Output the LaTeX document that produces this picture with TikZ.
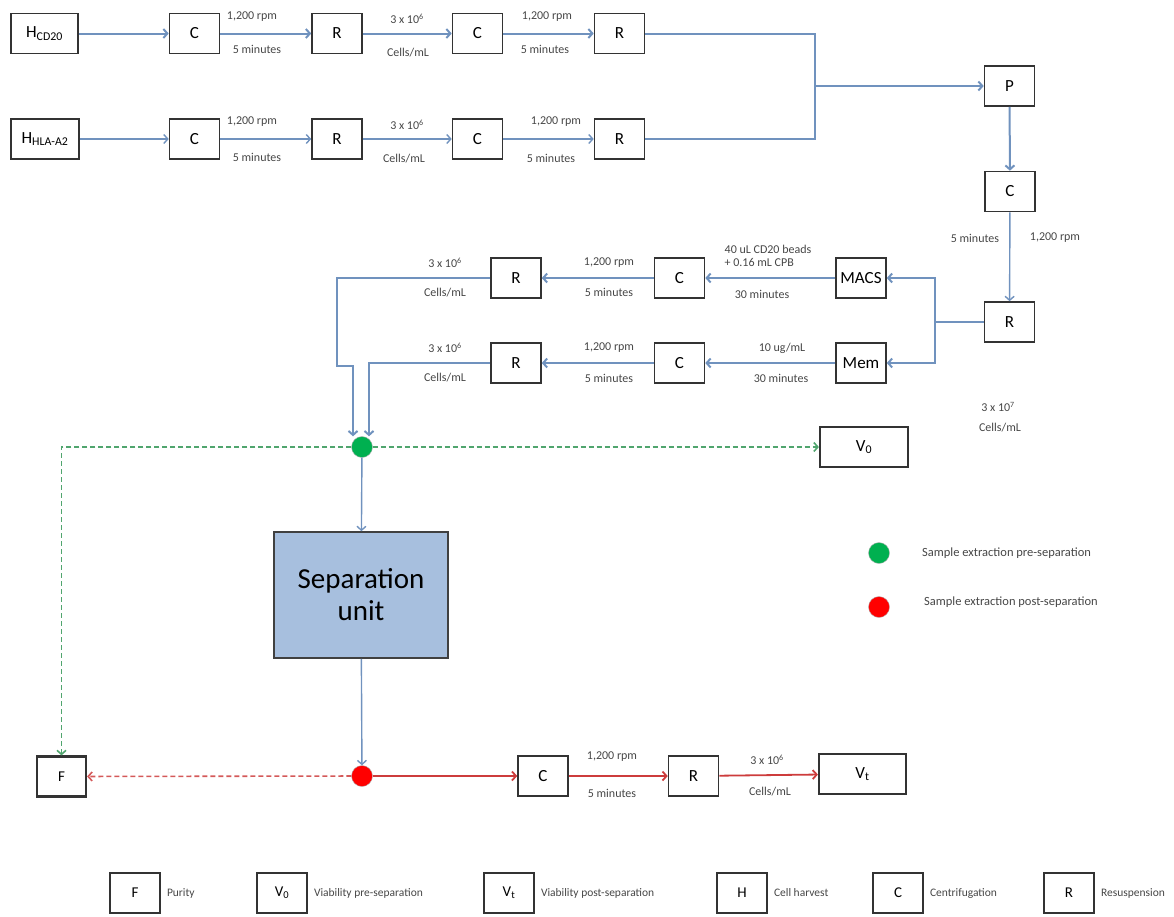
\documentclass[tikz,border=0pt]{standalone}
\usepackage{fontspec}
\setmainfont{Carlito}
\usepackage{xcolor}
\definecolor{flow-blue}{RGB}{112,146,190}
\definecolor{sep-blue}{RGB}{167,191,222}
\definecolor{dot-green}{RGB}{0,176,80}
\definecolor{dash-green}{RGB}{80,165,110}
\definecolor{flow-red}{RGB}{205,60,60}
\definecolor{lbl-gray}{RGB}{70,70,70}
\usetikzlibrary{arrows.meta}
\newcommand{\tenpow}[1]{3 x 10\textsuperscript{#1}}

\begin{document}
\begin{tikzpicture}[
	x=1pt, y=-1pt,
	>={Straight Barb[length=4pt,width=9pt]},
	box/.style={draw=black!80, line width=1.6pt, minimum width=50pt, minimum height=40pt,
		inner sep=0pt, font=\fontsize{17}{20}\selectfont},
	endbox/.style={box, line width=2.2pt},
	keybox/.style={box, font=\fontsize{15}{18}\selectfont},
	lbl/.style={text=lbl-gray, font=\fontsize{12}{13}\selectfont, inner sep=0pt},
	key/.style={text=lbl-gray, font=\fontsize{12.5}{14}\selectfont, anchor=west, inner sep=0pt},
	flow/.style={draw=flow-blue, line width=2pt},
	thinflow/.style={draw=flow-blue, line width=1.4pt},
	post/.style={draw=flow-red, line width=1.8pt},
	gdash/.style={draw=dash-green, line width=1.6pt, dash pattern=on 5pt off 3pt},
	rdash/.style={draw=flow-red!85, line width=1.6pt, dash pattern=on 5pt off 3pt},
	sample/.style={circle, minimum size=21pt, inner sep=0pt, draw=white!70!black, line width=.4pt}
	]
	\useasboundingbox (0,0) rectangle (1174,916);

	% harvest lines
	\node[box, minimum width=67pt] (hcd) at (44.5,33.5) {H\textsubscript{CD20}};
	\node[box] (c1) at (194.5,33.5) {C};
	\node[box] (r1) at (337,33.5) {R};
	\node[box] (c2) at (477.5,33.5) {C};
	\node[box] (r2) at (619.5,33.5) {R};

	\node[box, minimum width=68pt] (hhla) at (45,139) {H\textsubscript{HLA-A2}};
	\node[box] (c3) at (194.5,139) {C};
	\node[box] (r3) at (337,139) {R};
	\node[box] (c4) at (477.5,139) {C};
	\node[box] (r4) at (619.5,139) {R};

	\draw[flow,->] (hcd) -- (c1);
	\draw[flow,->] (c1) -- (r1);
	\draw[flow,->] (r1) -- (c2);
	\draw[flow,->] (c2) -- (r2);
	\draw[thinflow,->] (hhla) -- (c3);
	\draw[thinflow,->] (c3) -- (r3);
	\draw[thinflow,->] (r3) -- (c4);
	\draw[thinflow,->] (c4) -- (r4);

	\node[lbl] at (252,17) {1,200 rpm};
	\node[lbl] at (257,49) {5 minutes};
	\node[lbl] at (407,19) {\tenpow{6}};
	\node[lbl] at (408,53) {Cells/mL};
	\node[lbl] at (547,17) {1,200 rpm};
	\node[lbl] at (545,49) {5 minutes};
	\node[lbl] at (252,122) {1,200 rpm};
	\node[lbl] at (257,157) {5 minutes};
	\node[lbl] at (407,125) {\tenpow{6}};
	\node[lbl] at (404,159) {Cells/mL};
	\node[lbl] at (556,122) {1,200 rpm};
	\node[lbl] at (551,158) {5 minutes};

	% pooling
	\coordinate (j1) at (815,86);
	\node[box] (p) at (1009.5,86) {P};
	\node[box] (cp) at (1010,191.5) {C};
	\node[box] (rp) at (1009.5,322) {R};

	\draw[flow] (r2.east) -| (j1);
	\draw[thinflow] (j1) |- (r4.east);
	\draw[flow,->] (j1) -- (p);
	\draw[flow,->] (p) -- (cp);
	\draw[thinflow,->] (cp) -- (rp);
	\node[lbl] at (975,238) {5 minutes};
	\node[lbl] at (1055,238) {1,200 rpm};
	\node[lbl] at (998,407) {\tenpow{7}};
	\node[lbl] at (1000,428) {Cells/mL};

	% labelling branches
	\coordinate (j2) at (935,322);
	\node[box] (macs) at (861,278) {MACS};
	\node[box] (mem) at (861,363) {Mem};
	\node[box] (cm) at (679.5,278) {C};
	\node[box] (rm) at (516,278) {R};
	\node[box] (cme) at (679.5,363) {C};
	\node[box] (rme) at (516,363) {R};

	\draw[flow] (rp) -- (j2);
	\draw[flow,->] (j2) |- (macs);
	\draw[flow,->] (j2) |- (mem);
	\draw[flow,->] (macs) -- (cm);
	\draw[flow,->] (cm) -- (rm);
	\draw[flow,->] (mem) -- (cme);
	\draw[flow,->] (cme) -- (rme);

	\node[lbl, align=left] at (768,256) {40 uL CD20 beads\\+ 0.16 mL CPB};
	\node[lbl] at (762,294) {30 minutes};
	\node[lbl] at (609,263) {1,200 rpm};
	\node[lbl] at (609,292) {5 minutes};
	\node[lbl] at (445,263) {\tenpow{6}};
	\node[lbl] at (445,293) {Cells/mL};
	\node[lbl] at (782,348) {10 ug/mL};
	\node[lbl] at (781,378) {30 minutes};
	\node[lbl] at (609,348) {1,200 rpm};
	\node[lbl] at (609,378) {5 minutes};
	\node[lbl] at (445,348) {\tenpow{6}};
	\node[lbl] at (445,378) {Cells/mL};

	% separation and sampling
	\node[sample, fill=dot-green] (g) at (362,447) {};
	\node[sample, fill=red] (rd) at (362,776) {};
	\node[draw=black!75, line width=1.6pt, fill=sep-blue, minimum width=174pt, minimum height=126pt,
		align=center, font=\fontsize{29}{32}\selectfont] (sep) at (361,595) {Separation\\unit};
	\node[endbox, minimum width=88pt] (v0) at (864,447) {V\textsubscript{0}};
	\node[endbox, minimum width=49pt, font=\fontsize{15}{18}\selectfont] (f) at (61.5,776.5) {F};
	\node[box] (cb) at (543,776) {C};
	\node[box] (rb) at (693.5,776) {R};
	\node[endbox, minimum width=87pt] (vt) at (862.5,774) {V\textsubscript{t}};

	\coordinate (k1) at (337,366);
	\draw[flow,->] (rm.west) -| (k1) -| ([xshift=-9pt]g.north);
	\draw[flow,->] (rme.west) -| ([xshift=7pt]g.north);
	\draw[gdash,->] (g) -- (v0);
	\draw[gdash,->] (g.west) -| (f.north);
	\draw[thinflow,->] (g) -- (sep);
	\draw[thinflow,->] (sep) -- (rd);
	\draw[rdash,->] (rd) -- (f);
	\draw[post,->] (rd) -- (cb);
	\draw[post,->] (cb) -- (rb);
	\draw[post,->] (rb) -- (vt);

	\node[lbl] at (612,757) {1,200 rpm};
	\node[lbl] at (612,793) {5 minutes};
	\node[lbl] at (767,760) {\tenpow{6}};
	\node[lbl] at (770,792) {Cells/mL};

	% sample legend
	\node[sample, fill=dot-green] (kg) at (879,553) {};
	\node[sample, fill=red] (kr) at (879,607) {};
	\node[key] at (922,553) {Sample extraction pre-separation};
	\node[key] at (924,602) {Sample extraction post-separation};

	% box legend
	\foreach \x/\sym/\txt in {135/F/Purity, 282/V\textsubscript{0}/Viability pre-separation,
		509/V\textsubscript{t}/Viability post-separation, 742/H/Cell harvest,
		898/C/Centrifugation, 1069/R/Resuspension}{
		\node[keybox] (k\x) at (\x,893) {\sym};
		\node[key, font=\fontsize{11.5}{13}\selectfont] at ([xshift=6pt]k\x.east) {\txt};
	}
\end{tikzpicture}
\end{document}
